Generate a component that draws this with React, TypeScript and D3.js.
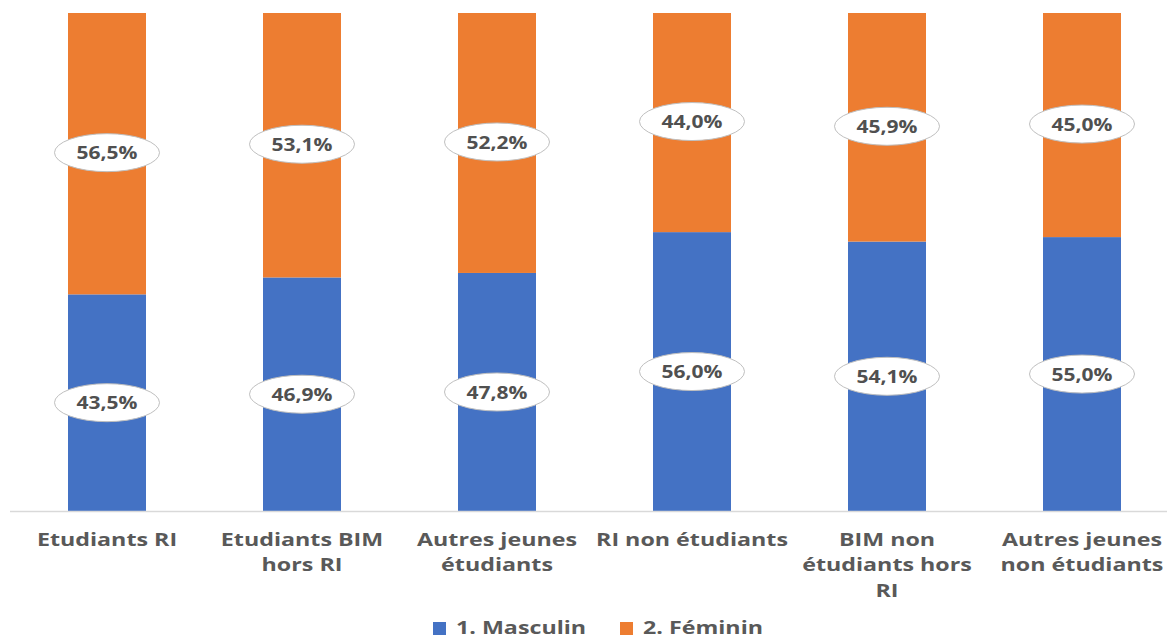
import React from "react";
import * as d3 from "d3";

const categories: string[][] = [
  ["Etudiants RI"],
  ["Etudiants BIM", "hors RI"],
  ["Autres jeunes", "étudiants"],
  ["RI non étudiants"],
  ["BIM non", "étudiants hors", "RI"],
  ["Autres jeunes", "non étudiants"],
];
const masculin = [43.5, 46.9, 47.8, 56.0, 54.1, 55.0];
const feminin = [56.5, 53.1, 52.2, 44.0, 45.9, 45.0];
const seriesNames = ["1. Masculin", "2. Féminin"];
const colors = ["#4472C4", "#ED7D31"];

const W = 1167;
const H = 637;
const plotLeft = 9.5;
const plotRight = 1179.5;
const plotTop = 13;
const plotBottom = 511;
const font = "'Open Sans', 'Noto Sans', sans-serif";
const textStretch = 1.25;
const valueStretch = 1.2;

const fmt = (v: number) => v.toFixed(1).replace(".", ",") + "%";

export default function App() {
  const x = d3
    .scaleBand<number>()
    .domain(d3.range(categories.length))
    .range([plotLeft, plotRight])
    .paddingInner(0.6)
    .paddingOuter(0.3);
  const y = d3.scaleLinear().domain([0, 100]).range([plotBottom, plotTop]);
  const bw = 78;

  const rows = categories.map((c, i) => ({ i, m: masculin[i], f: feminin[i] }));

  const label = (cx: number, cy: number, text: string, key: string) => (
    <g key={key}>
      <ellipse cx={cx} cy={cy} rx={52.5} ry={19} fill="#fff" stroke="#BFBFBF" strokeWidth={1} />
      <text
        transform={`translate(${cx},${cy}) scale(${valueStretch},1)`}
        textAnchor="middle"
        dominantBaseline="central"
        fontFamily={font}
        fontWeight={700}
        fontSize={17.5}
        fill="#505050"
      >
        {text}
      </text>
    </g>
  );

  return (
    <div style={{ position: "absolute", left: 0, top: 0 }}>
      <svg width={W} height={H} style={{ display: "block", background: "#fff" }}>
        {rows.map((r) => {
          const cx = (x(r.i) as number) + x.bandwidth() / 2;
          const yM = y(r.m);
          const yF = y(r.m + r.f);
          return (
            <g key={r.i}>
              <rect x={cx - bw / 2} y={yM} width={bw} height={plotBottom - yM} fill={colors[0]} />
              <rect x={cx - bw / 2} y={yF} width={bw} height={yM - yF} fill={colors[1]} />
            </g>
          );
        })}
        <line x1={10} x2={W} y1={plotBottom + 0.5} y2={plotBottom + 0.5} stroke="#D9D9D9" strokeWidth={1.5} />
        {rows.map((r) => {
          const cx = (x(r.i) as number) + x.bandwidth() / 2;
          const yM = y(r.m);
          const yF = y(r.m + r.f);
          return (
            <g key={"l" + r.i}>
              {label(cx, (plotBottom + yM) / 2, fmt(r.m), "m")}
              {label(cx, (yM + yF) / 2 - 1, fmt(r.f), "f")}
            </g>
          );
        })}
        {categories.map((lines, i) => {
          const cx = (x(i) as number) + x.bandwidth() / 2;
          return (
            <g key={"c" + i} transform={`translate(${cx},0) scale(${textStretch},1)`}>
              <text
                textAnchor="middle"
                fontFamily={font}
                fontWeight={700}
                fontSize={18.6}
                fill="#595959"
              >
                {lines.map((ln, j) => (
                  <tspan key={j} x={0} y={546 + j * 25.5}>
                    {ln}
                  </tspan>
                ))}
              </text>
            </g>
          );
        })}
        {seriesNames.map((s, i) => {
          const lx = i === 0 ? 433 : 620;
          return (
            <g key={"lg" + i}>
              <rect x={lx} y={622} width={13} height={13} fill={colors[i]} />
              <g transform={`translate(${lx + 23},634) scale(${textStretch},1)`}>
                <text x={0} y={0} fontFamily={font} fontWeight={700} fontSize={18.6} fill="#595959">
                  {s}
                </text>
              </g>
            </g>
          );
        })}
      </svg>
    </div>
  );
}
